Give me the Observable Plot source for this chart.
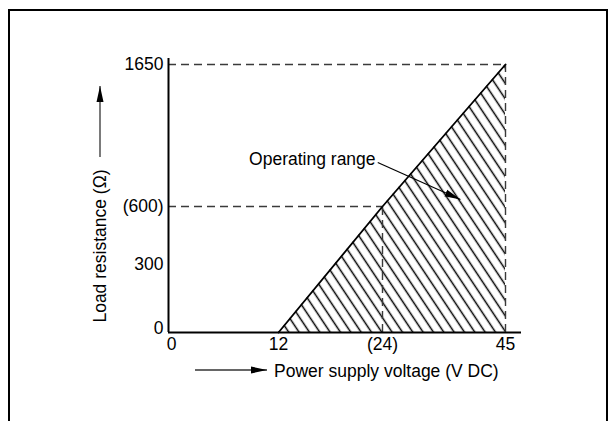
<!DOCTYPE html>
<html><head><meta charset="utf-8">
<script src="https://cdn.jsdelivr.net/npm/d3@7"></script>
<script src="https://cdn.jsdelivr.net/npm/@observablehq/plot@0.6"></script>
<style>
html,body{margin:0;padding:0;background:#fff;overflow:hidden;}
#wrap{position:relative;width:610px;height:421px;overflow:hidden;font-family:"Liberation Sans",Arial,Helvetica,sans-serif;}
#frame{position:absolute;left:8px;top:9px;width:600px;height:500px;box-sizing:border-box;border:2px solid #000;}
#chart{position:absolute;left:0;top:0;}
</style></head><body>
<div id="wrap"><div id="frame"></div><div id="chart"></div></div>
<script>
// ---- data ----
const voltage = [12, 24, 45];          // V DC
const resistance = [0, 600, 1650];     // Ω (upper limit of operating range)
const guideVoltage = [24, 45];
const guideResistance = [600, 1650];
const xTicks = [0, 12, 24, 45];
const xTickLabels = ["0", "12", "(24)", "45"];
const yTicks = [0, 300, 600, 1650];
const yTickLabels = ["0", "300", "(600)", "1650"];
const xTitle = "Power supply voltage (V DC)";
const yTitle = "Load resistance (Ω)";
const annotationText = "Operating range";
const annotationLabel = [23.2, 945];   // [V, Ω] end of label
const annotationStart = [23.45, 925];
const annotationTip = [37.3, 652];

// ---- tables ----
const region = voltage.map((v, i) => ({v, r: resistance[i]}));
const guides = guideVoltage.map((v, i) => ({v, r: guideResistance[i]}));
const xLab = new Map(xTicks.map((t, i) => [t, xTickLabels[i]]));
const yLab = new Map(yTicks.map((t, i) => [t, yTickLabels[i]]));

// the printed axes are not to scale: piecewise-linear warps between ticks
const xWarp = d3.scaleLinear().domain(xTicks).range([0, 110, 214, 337]);
const yWarp = d3.scaleLinear().domain(yTicks).range([0, 68, 126, 268]);

const SVGNS = "http://www.w3.org/2000/svg";
function filledArrow(color) {
  const m = document.createElementNS(SVGNS, "marker");
  m.setAttribute("viewBox", "0 -4 16 8");
  m.setAttribute("markerWidth", "16");
  m.setAttribute("markerHeight", "8");
  m.setAttribute("markerUnits", "userSpaceOnUse");
  m.setAttribute("refX", "16");
  m.setAttribute("refY", "0");
  m.setAttribute("orient", "auto");
  const p = document.createElementNS(SVGNS, "path");
  p.setAttribute("d", "M0,-3.5L16,0L0,3.5Z");
  p.setAttribute("fill", "#000");
  p.setAttribute("stroke", "none");
  m.appendChild(p);
  return m;
}

const FS = 17.5;
const dash = {stroke: "#3a3a3a", strokeWidth: 1.4, strokeDasharray: "8,5"};

const chart = Plot.plot({
  width: 610,
  height: 421,
  marginLeft: 168,
  marginRight: 89,
  marginTop: 58,
  marginBottom: 89,
  style: {fontFamily: '"Liberation Sans", Arial, Helvetica, sans-serif', fontSize: FS + "px", background: "transparent", color: "#000"},
  x: {type: "linear", transform: d => xWarp(d), domain: [0, 353]},
  y: {type: "linear", transform: d => yWarp(d), domain: [0, 274]},
  marks: [
    Plot.areaY(region, {x: "v", y1: 0, y2: "r", fill: "url(#hatch)"}),
    Plot.ruleY(guides, {y: "r", x1: 0, x2: "v", ...dash}),
    Plot.ruleX(guides, {x: "v", y1: 0, y2: "r", ...dash}),
    Plot.line(region, {x: "v", y: "r", stroke: "#000", strokeWidth: 1.8}),
    Plot.ruleX([0], {stroke: "#000", strokeWidth: 2}),
    Plot.ruleY([0], {stroke: "#000", strokeWidth: 2}),
    Plot.axisX([0], {tickSize: 0, tickPadding: 5, dx: 3, fontSize: FS, label: null, tickFormat: d => xLab.get(d)}),
    Plot.axisX(xTicks.slice(1), {tickSize: 0, tickPadding: 5, fontSize: FS, label: null, tickFormat: d => xLab.get(d)}),
    Plot.axisY([0], {tickSize: 0, tickPadding: 5, dy: -4, fontSize: FS, label: null, tickFormat: d => yLab.get(d)}),
    Plot.axisY(yTicks.slice(1), {tickSize: 0, tickPadding: 5, fontSize: FS, label: null, tickFormat: d => yLab.get(d)}),
    Plot.text([annotationText], {x: annotationLabel[0], y: annotationLabel[1], text: d => d, textAnchor: "end", fontSize: FS, fill: "#000"}),
    Plot.link([0], {x1: annotationStart[0], y1: annotationStart[1], x2: annotationTip[0], y2: annotationTip[1], stroke: "#000", strokeWidth: 1.2, markerEnd: filledArrow})
  ]
});

const svg = d3.select(chart);
const defs = svg.insert("defs", ":first-child");
const pat = defs.append("pattern").attr("id", "hatch")
  .attr("patternUnits", "userSpaceOnUse").attr("width", 8.6).attr("height", 10)
  .attr("patternTransform", "rotate(-33.7)");
pat.append("line").attr("x1", 4.3).attr("y1", -1).attr("x2", 4.3).attr("y2", 11)
  .attr("stroke", "#000").attr("stroke-width", 1.5);
const mk = defs.append("marker").attr("id", "axisArrow")
  .attr("viewBox", "0 -4 16 8").attr("markerWidth", 16).attr("markerHeight", 8)
  .attr("markerUnits", "userSpaceOnUse").attr("refX", 16).attr("refY", 0).attr("orient", "auto");
mk.append("path").attr("d", "M0,-3.5L16,0L0,3.5Z").attr("fill", "#000");

// axis titles with arrows
const titles = svg.append("g").attr("fill", "#000").attr("font-size", FS);
titles.append("text").attr("transform", "translate(100,246) rotate(-90)")
  .attr("text-anchor", "middle").attr("dy", "0.35em").text(yTitle);
titles.append("line").attr("x1", 100).attr("y1", 157).attr("x2", 100).attr("y2", 86)
  .attr("stroke", "#333").attr("stroke-width", 1.3).attr("marker-end", "url(#axisArrow)");
titles.append("line").attr("x1", 195).attr("y1", 370).attr("x2", 267).attr("y2", 370)
  .attr("stroke", "#333").attr("stroke-width", 1.3).attr("marker-end", "url(#axisArrow)");
titles.append("text").attr("x", 274).attr("y", 371).attr("dy", "0.35em")
  .attr("text-anchor", "start").text(xTitle);

document.getElementById("chart").appendChild(chart);
</script>
</body></html>
